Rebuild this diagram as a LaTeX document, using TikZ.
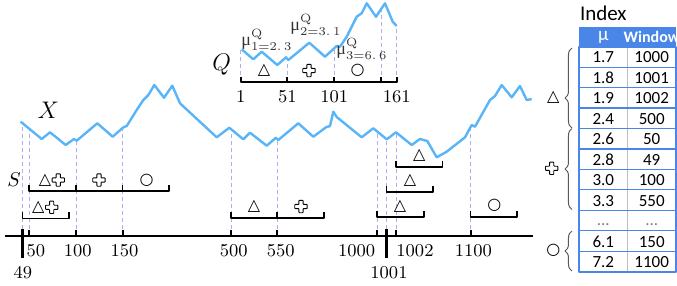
\documentclass[tikz,border=0pt]{standalone}
\usepackage{fontspec}
\newfontfamily\symfont{DejaVu Sans}
\newfontfamily\tabfont{Carlito}
\newfontfamily\muserif{Liberation Serif}
\usetikzlibrary{decorations.pathreplacing,calc}
\definecolor{curveblue}{HTML}{5AB4F8}
\definecolor{guidepurple}{HTML}{B4ACF2}
\definecolor{headblue}{HTML}{4A86E8}
\newcommand{\tri}{{\symfont △}}
\newcommand{\cir}{{\symfont ○}}

\begin{document}
\begin{tikzpicture}[
		x=0.5pt,
		y=-0.5pt,
		line join=round,
		series/.style={line width=1.2pt,draw=curveblue},
		guide/.style={dash pattern=on 2pt off 1.5pt,draw=guidepurple,line width=0.4pt},
		axisline/.style={line width=1pt},
		window/.style={line width=0.8pt},
		ticklabel/.style={font=\small,inner sep=0pt},
		sym/.style={font=\fontsize{8}{8}\selectfont,inner sep=0pt},
		mulabel/.style={anchor=west,text=black!80,inner sep=0pt,font=\small},
		cell/.style={font=\tabfont\fontsize{8.5}{9}\selectfont,inner sep=0pt},
		headcell/.style={font=\tabfont\bfseries\fontsize{8}{9}\selectfont,text=white,inner sep=0pt},
		bracegroup/.style={decorate,decoration={brace,amplitude=3.5pt,aspect=#1},draw=black!65,line width=0.5pt},
		crossmark/.pic={
			\draw[line width=0.45pt,rounded corners=0.3pt]
			(-2.1,-6.2) -- (2.1,-6.2) -- (2.1,-2.1) -- (6.2,-2.1) -- (6.2,2.1) -- (2.1,2.1)
			-- (2.1,6.2) -- (-2.1,6.2) -- (-2.1,2.1) -- (-6.2,2.1) -- (-6.2,-2.1) -- (-2.1,-2.1) -- cycle;
		}
	]
	
	% Page frame
	\useasboundingbox (0,0) rectangle (677,285);
	
	% Guides from the time axis up to X
	\draw[guide] (22.7,236) -- (22.7,123.4);
	\draw[guide] (29.3,236) -- (29.3,129);
	\draw[guide] (76,236) -- (76,140.5);
	\draw[guide] (122.7,236) -- (122.7,127.6);
	\draw[guide] (231,236) -- (231,129);
	\draw[guide] (277.3,236) -- (277.3,139);
	\draw[guide] (377.3,236) -- (377.3,130.5);
	\draw[guide] (386.7,236) -- (386.7,139.3);
	\draw[guide] (396,236) -- (396,132.3);
	\draw[guide] (470.7,236) -- (470.7,128);
	
	% Guides from the query axis up to Q
	\draw[guide] (240.7,81.7) -- (240.7,49);
	\draw[guide] (287.3,81.7) -- (287.3,59);
	\draw[guide] (334.3,81.7) -- (334.3,48);
	\draw[guide] (381,81.7) -- (381,9);
	\draw[guide] (396.7,81.7) -- (396.7,26);
	
	% Long series X
	\draw[series] (20.7,121.7) -- (41.7,139) -- (50,132.3) -- (65.7,145) -- (74,139)
	-- (76.7,140.7) -- (97.3,123.3) -- (112.7,136.7) -- (123.3,127.3) -- (126.7,126)
	-- (136.7,110) -- (143.3,100) -- (148.3,95) -- (154.3,85) -- (164,97.7)
	-- (172.3,85.7) -- (180,103.3) -- (216.7,137.3) -- (229.3,127.7) -- (243.3,139.3)
	-- (250,132.7) -- (266.7,145.7) -- (276,137.7) -- (278.3,140) -- (298.3,123.3)
	-- (313.3,136.7) -- (326,127.3) -- (330,126) -- (333.3,111.7) -- (336.7,117)
	-- (361.7,137.3) -- (373.3,128.3) -- (386.7,139.3) -- (396,132.3) -- (411.7,145)
	-- (420,139) -- (427.3,141) -- (436.7,157.3) -- (446.7,151.7) -- (465,137.3)
	-- (471.7,125) -- (475,126.7) -- (490,100) -- (495,96) -- (501.7,85)
	-- (511.7,97.3) -- (520,86) -- (526.7,100) -- (531.7,99);
	\node[font=\large] (xname) at (48.3,110) {$X$};
	
	% Query series Q
	\draw[series] (241.7,49.3) -- (253.3,59.3) -- (261.7,51.7) -- (277.3,65) -- (286,57.3)
	-- (288.3,60) -- (309.3,42.7) -- (325,56.7) -- (336.7,46) -- (340,46.7)
	-- (346.7,36.7) -- (356.7,16.7) -- (361.7,13.3) -- (366.7,3.3) -- (376,16.7)
	-- (385,3.3) -- (392.7,21.7) -- (396.7,26);
	\node[font=\large] (qname) at (221.7,65) {$Q$};
	
	% Query axis
	\draw[axisline] (240.7,76.5) -- (240.7,81.7) -- (396.7,81.7) -- (396.7,76.5);
	\draw[axisline] (287.3,76.5) -- (287.3,81.7);
	\draw[axisline] (334.3,76.5) -- (334.3,81.7);
	\draw[axisline] (381,76.5) -- (381,81.7);
	\node[ticklabel] (q1) at (240.7,97) {1};
	\node[ticklabel] (q51) at (287.3,97) {51};
	\node[ticklabel] (q101) at (334.3,97) {101};
	\node[ticklabel] (q161) at (396.7,97) {161};
	
	% Query segments and their means
	\node[sym] (qtri) at (264,70.5) {\tri};
	\pic (qcrs) at (309,70.5) {crossmark};
	\node[sym] (qcir) at (357.7,70) {\cir};
	\node[mulabel] (mu1) at (241,40) {{\muserif μ}$^{\mathrm{Q}}_{\mathrm{1=2.\,3}}$};
	\node[mulabel] (mu2) at (290,25) {{\muserif μ}$^{\mathrm{Q}}_{\mathrm{2=3.\,1}}$};
	\node[mulabel] (mu3) at (336,49) {{\muserif μ}$^{\mathrm{Q}}_{\mathrm{3=6.\,6}}$};
	
	% Time axis
	\draw[axisline] (5,236) -- (533,236);
	\draw[line width=1.2pt] (22.7,229) -- (22.7,258);
	\draw[line width=1.2pt] (386.7,229) -- (386.7,258);
	\draw[axisline] (29.3,230) -- (29.3,236);
	\draw[axisline] (76,230) -- (76,236);
	\draw[axisline] (122.7,230) -- (122.7,236);
	\draw[axisline] (231,230) -- (231,236);
	\draw[axisline] (277.3,230) -- (277.3,236);
	\draw[axisline] (377.3,230) -- (377.3,236);
	\draw[axisline] (396,230) -- (396,236);
	\draw[axisline] (470.7,230) -- (470.7,236);
	
	% Time labels
	\node[ticklabel] (t49) at (23,273) {49};
	\node[ticklabel] (t50) at (36,251) {50};
	\node[ticklabel] (t100) at (77.8,251) {100};
	\node[ticklabel] (t150) at (124.5,251) {150};
	\node[ticklabel] (t500) at (233.8,251) {500};
	\node[ticklabel] (t550) at (280.8,251) {550};
	\node[ticklabel] (t1000) at (356.7,251) {1000};
	\node[ticklabel] (t1001) at (389,273) {1001};
	\node[ticklabel] (t1002) at (415,251) {1002};
	\node[ticklabel] (t1100) at (473.3,251) {1100};
	
	% Windows of S
	\node[font=\normalsize] (sname) at (14,180) {$S$};
	\draw[window] (29.3,185) -- (29.3,191) -- (169,191) -- (169,185);
	\draw[window] (76,185) -- (76,191);
	\draw[window] (122.7,185) -- (122.7,191);
	\node[sym] (s50) at (45,180) {\tri};
	\pic (s50b) at (58.3,180) {crossmark};
	\pic (s100) at (99,180) {crossmark};
	\node[sym] (s150) at (146.7,180) {\cir};
	
	\draw[window] (22.7,212) -- (22.7,218.3) -- (69.3,218.3) -- (69.3,212);
	\node[sym] (s49) at (38.3,207.3) {\tri};
	\pic (s49b) at (51.7,207.3) {crossmark};
	
	\draw[window] (231,211.5) -- (231,217.7) -- (324.3,217.7) -- (324.3,211.5);
	\draw[window] (277.3,211.5) -- (277.3,217.7);
	\node[sym] (s500) at (254,206.5) {\tri};
	\pic (s550) at (301,206.5) {crossmark};
	
	\draw[window] (377.3,210.5) -- (377.3,216.7) -- (424.3,216.7) -- (424.3,210.5);
	\node[sym] (s1000) at (400,206) {\tri};
	\draw[window] (386.7,185.5) -- (386.7,191.7) -- (433.3,191.7) -- (433.3,185.5);
	\node[sym] (s1001) at (410,180.5) {\tri};
	\draw[window] (396,160.5) -- (396,166.7) -- (442.7,166.7) -- (442.7,160.5);
	\node[sym] (s1002) at (419.3,155.5) {\tri};
	
	\draw[window] (470.7,210.5) -- (470.7,216.7) -- (517.3,216.7) -- (517.3,210.5);
	\node[sym] (s1100) at (494.3,205) {\cir};
	
	% Index table
	\node[font=\tabfont\fontsize{10.5}{11}\selectfont] (idxname) at (603.3,13.3) {Index};
	\fill[headblue] (579.3,26.7) rectangle (676,46.7);
	\node[headcell,font=\tabfont\fontsize{9.5}{10}\selectfont] (hmu) at (603.3,37.5) {μ};
	\node[headcell] (hwin) at (651.7,36.7) {Window};
	\draw[black!25,line width=0.5pt] (627.3,46.7) -- (627.3,271.7);
	\draw[headblue,line width=0.6pt] (579.3,67.15) -- (676,67.15);
	\draw[headblue,line width=0.6pt] (579.3,87.6) -- (676,87.6);
	\draw[headblue,line width=0.6pt] (579.3,108.05) -- (676,108.05);
	\draw[headblue,line width=0.6pt] (579.3,128.5) -- (676,128.5);
	\draw[headblue,line width=0.6pt] (579.3,148.95) -- (676,148.95);
	\draw[headblue,line width=0.6pt] (579.3,169.4) -- (676,169.4);
	\draw[headblue,line width=0.6pt] (579.3,189.85) -- (676,189.85);
	\draw[headblue,line width=0.6pt] (579.3,210.3) -- (676,210.3);
	\draw[headblue,line width=0.6pt] (579.3,230.75) -- (676,230.75);
	\draw[headblue,line width=0.6pt] (579.3,251.2) -- (676,251.2);
	\draw[headblue,line width=0.8pt] (579.3,46.7) rectangle (676,271.7);
	
	\node[cell] (mu1r) at (603.3,57.5) {1.7};   \node[cell] (win1r) at (651.7,57.5) {1000};
	\node[cell] (mu2r) at (603.3,78) {1.8};     \node[cell] (win2r) at (651.7,78) {1001};
	\node[cell] (mu3r) at (603.3,98.4) {1.9};   \node[cell] (win3r) at (651.7,98.4) {1002};
	\node[cell] (mu4r) at (603.3,118.9) {2.4};  \node[cell] (win4r) at (651.7,118.9) {500};
	\node[cell] (mu5r) at (603.3,139.3) {2.6};  \node[cell] (win5r) at (651.7,139.3) {50};
	\node[cell] (mu6r) at (603.3,159.8) {2.8};  \node[cell] (win6r) at (651.7,159.8) {49};
	\node[cell] (mu7r) at (603.3,180.2) {3.0};  \node[cell] (win7r) at (651.7,180.2) {100};
	\node[cell] (mu8r) at (603.3,200.7) {3.3};  \node[cell] (win8r) at (651.7,200.7) {550};
	\node[cell,text=black!50,anchor=base] (mu9r) at (603.3,225) {...};
	\node[cell,text=black!50,anchor=base] (win9r) at (651.7,225) {...};
	\node[cell] (mu10r) at (603.3,241.6) {6.1}; \node[cell] (win10r) at (651.7,241.6) {150};
	\node[cell] (mu11r) at (603.3,262) {7.2};   \node[cell] (win11r) at (651.7,262) {1100};
	
	% Groups of the index
	\draw[bracegroup=0.375] (572,128) -- (572,48);
	\draw[bracegroup=0.5] (572,209.5) -- (572,128.5);
	\draw[bracegroup=0.5] (572,271) -- (572,231);
	\node[sym] (gtri) at (553.3,97) {\tri};
	\pic (gcrs) at (551.7,168.3) {crossmark};
	\node[sym] (gcir) at (553.3,250) {\cir};
	
\end{tikzpicture}
\end{document}
